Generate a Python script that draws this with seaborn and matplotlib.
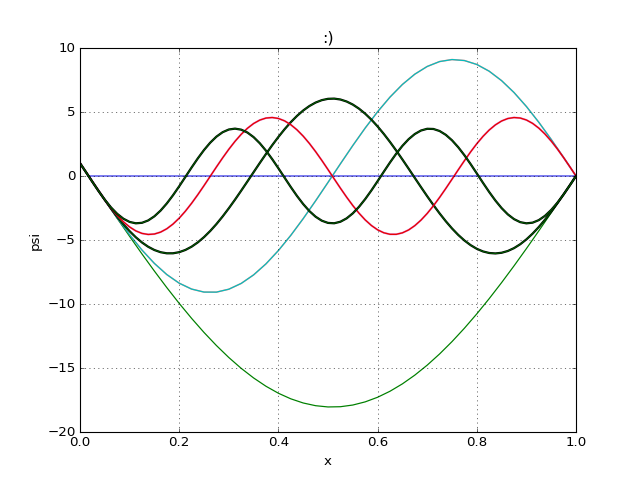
import matplotlib
matplotlib.use("Agg")
import matplotlib.pyplot as plt
import seaborn as sns

# sample positions along x (coarse grid, step 0.025)
x_vals = [0.000, 0.025, 0.050, 0.075, 0.100, 0.125, 0.150, 0.175, 0.200, 0.225,
          0.250, 0.275, 0.300, 0.325, 0.350, 0.375, 0.400, 0.425, 0.450, 0.475,
          0.500, 0.525, 0.550, 0.575, 0.600, 0.625, 0.650, 0.675, 0.700, 0.725,
          0.750, 0.775, 0.800, 0.825, 0.850, 0.875, 0.900, 0.925, 0.950, 0.975,
          1.000]

# finer grid (step 0.0125) for the faster-oscillating states
x_fine = [0.0000, 0.0125, 0.0250, 0.0375, 0.0500, 0.0625, 0.0750, 0.0875, 0.1000, 0.1125,
          0.1250, 0.1375, 0.1500, 0.1625, 0.1750, 0.1875, 0.2000, 0.2125, 0.2250, 0.2375,
          0.2500, 0.2625, 0.2750, 0.2875, 0.3000, 0.3125, 0.3250, 0.3375, 0.3500, 0.3625,
          0.3750, 0.3875, 0.4000, 0.4125, 0.4250, 0.4375, 0.4500, 0.4625, 0.4750, 0.4875,
          0.5000, 0.5125, 0.5250, 0.5375, 0.5500, 0.5625, 0.5750, 0.5875, 0.6000, 0.6125,
          0.6250, 0.6375, 0.6500, 0.6625, 0.6750, 0.6875, 0.7000, 0.7125, 0.7250, 0.7375,
          0.7500, 0.7625, 0.7750, 0.7875, 0.8000, 0.8125, 0.8250, 0.8375, 0.8500, 0.8625,
          0.8750, 0.8875, 0.9000, 0.9125, 0.9250, 0.9375, 0.9500, 0.9625, 0.9750, 0.9875,
          1.0000]

# flat (zero) wavefunction
zero_x = [0.016, 1.000]
zero_psi = [0.0, 0.0]

# ground state (green, deepest curve)
psi_1 = [1.000, -0.442, -1.881, -3.309, -4.715, -6.091, -7.428, -8.718, -9.952, -11.122,
         -12.222, -13.243, -14.180, -15.027, -15.777, -16.427, -16.972, -17.408, -17.733, -17.945,
         -18.043, -18.025, -17.893, -17.646, -17.286, -16.816, -16.239, -15.558, -14.777, -13.902,
         -12.939, -11.893, -10.771, -9.580, -8.328, -7.023, -5.673, -4.287, -2.873, -1.441,
         0.000]

# second state (cyan)
psi_2 = [1.000, -0.452, -1.893, -3.285, -4.594, -5.786, -6.830, -7.700, -8.374, -8.834,
         -9.069, -9.073, -8.845, -8.393, -7.726, -6.862, -5.823, -4.636, -3.331, -1.940,
         -0.501, 0.952, 2.380, 3.748, 5.020, 6.164, 7.151, 7.955, 8.557, 8.941,
         9.097, 9.020, 8.714, 8.186, 7.449, 6.523, 5.430, 4.198, 2.860, 1.448,
         0.000]

# third state (dark green), on x_fine
psi_3 = [1.000, 0.279, -0.446, -1.164, -1.866, -2.541, -3.179, -3.772, -4.310, -4.787,
         -5.195, -5.529, -5.783, -5.954, -6.040, -6.039, -5.951, -5.778, -5.522, -5.186,
         -4.776, -4.298, -3.758, -3.164, -2.524, -1.849, -1.146, -0.428, 0.297, 1.018,
         1.724, 2.405, 3.052, 3.655, 4.205, 4.695, 5.118, 5.467, 5.738, 5.926,
         6.029, 6.046, 5.976, 5.820, 5.581, 5.261, 4.866, 4.401, 3.873, 3.289,
         2.659, 1.990, 1.292, 0.576, -0.149, -0.871, -1.581, -2.268, -2.922, -3.535,
         -4.097, -4.600, -5.037, -5.401, -5.689, -5.894, -6.015, -6.050, -5.997, -5.859,
         -5.636, -5.333, -4.953, -4.502, -3.986, -3.413, -2.791, -2.129, -1.437, -0.724,
         0.000]

# fourth state (red), on x_fine
psi_4 = [1.000, 0.278, -0.452, -1.170, -1.858, -2.499, -3.076, -3.575, -3.982, -4.288,
         -4.485, -4.567, -4.533, -4.384, -4.122, -3.756, -3.294, -2.747, -2.131, -1.461,
         -0.753, -0.026, 0.702, 1.412, 2.086, 2.706, 3.258, 3.726, 4.100, 4.369,
         4.527, 4.569, 4.495, 4.306, 4.007, 3.607, 3.114, 2.542, 1.905, 1.220,
         0.503, -0.226, -0.950, -1.649, -2.307, -2.905, -3.430, -3.867, -4.205, -4.436,
         -4.554, -4.556, -4.442, -4.215, -3.880, -3.446, -2.925, -2.329, -1.673, -0.975,
         -0.252, 0.478, 1.195, 1.882, 2.521, 3.095, 3.591, 3.995, 4.297, 4.490,
         4.568, 4.530, 4.376, 4.111, 3.741, 3.276, 2.727, 2.108, 1.436, 0.727,
         0.000]

# fifth state (dark green), on x_fine
psi_5 = [1.000, 0.273, -0.464, -1.184, -1.856, -2.454, -2.955, -3.338, -3.588, -3.696,
         -3.657, -3.472, -3.149, -2.701, -2.145, -1.504, -0.804, -0.071, 0.665, 1.374,
         2.028, 2.602, 3.072, 3.420, 3.632, 3.700, 3.620, 3.397, 3.038, 2.558,
         1.977, 1.317, 0.605, -0.132, -0.863, -1.560, -2.194, -2.742, -3.180, -3.492,
         -3.665, -3.693, -3.573, -3.311, -2.918, -2.408, -1.803, -1.126, -0.404, 0.334,
         1.058, 1.741, 2.354, 2.874, 3.279, 3.554, 3.688, 3.674, 3.515, 3.216,
         2.789, 2.251, 1.624, 0.932, 0.202, -0.535, -1.251, -1.917, -2.507, -2.997,
         -3.368, -3.605, -3.699, -3.645, -3.447, -3.111, -2.652, -2.087, -1.439, -0.734,
         0.000]

x_ticks = [0.0, 0.2, 0.4, 0.6, 0.8, 1.0]
y_ticks = [-20, -15, -10, -5, 0, 5, 10]

plt.style.use("classic")
plt.rcParams["font.family"] = ["DejaVu Sans"]

fig, ax = plt.subplots(figsize=(8, 6), dpi=80)
fig.subplots_adjust(left=0.125, right=0.9, bottom=0.1, top=0.9)

sns.lineplot(x=zero_x, y=zero_psi, ax=ax, color="#6565ef", lw=1.5)
sns.lineplot(x=x_vals, y=psi_1, ax=ax, color="#008000", lw=1.1)
sns.lineplot(x=x_vals, y=psi_2, ax=ax, color="#ff0000", lw=1.4, alpha=0.45)
sns.lineplot(x=x_vals, y=psi_2, ax=ax, color="#00bfbf", lw=1.1)
sns.lineplot(x=x_fine, y=psi_3, ax=ax, color="#000000", lw=2.0)
sns.lineplot(x=x_fine, y=psi_3, ax=ax, color="#006400", lw=0.9)
sns.lineplot(x=x_fine, y=psi_4, ax=ax, color="#bf00bf", lw=1.8, alpha=0.45)
sns.lineplot(x=x_fine, y=psi_4, ax=ax, color="#e80000", lw=1.2)
sns.lineplot(x=x_fine, y=psi_5, ax=ax, color="#000000", lw=2.0)
sns.lineplot(x=x_fine, y=psi_5, ax=ax, color="#006400", lw=0.9)

ax.set_xlim(0, 1)
ax.set_ylim(-20, 10)
ax.set_xticks(x_ticks)
ax.set_yticks(y_ticks)
ax.set_xticklabels([f"{t:.1f}" for t in x_ticks])
ax.set_yticklabels([str(t).replace("-", "\u2212") for t in y_ticks])
ax.grid(True, color="black", linestyle=":", linewidth=0.5)
ax.set_xlabel("x")
ax.set_ylabel("psi")
ax.set_title(":)")

fig.savefig("out.png", dpi=80)
